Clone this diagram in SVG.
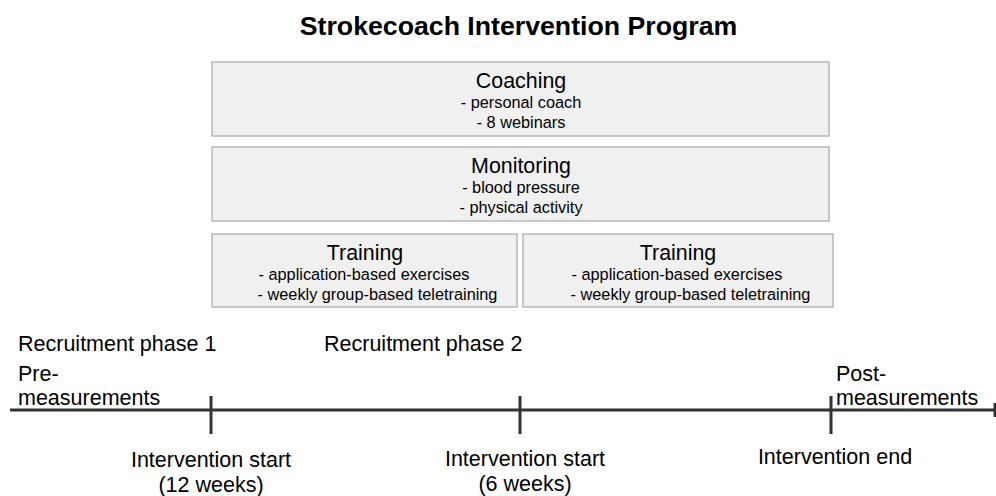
<svg xmlns="http://www.w3.org/2000/svg" width="996" height="496" viewBox="0 0 996 496">
  <style>
    text { font-family: "Liberation Sans", Arial, sans-serif; fill: #000; }
    .title { font-size: 26.7px; font-weight: bold; }
    .head { font-size: 21.4px; }
    .item { font-size: 16.3px; }
    .lbl { font-size: 21.5px; }
    .box { fill: #f0f0f0; stroke: #b8b8b8; stroke-width: 1.5; }
    .axis { stroke: #333; stroke-width: 3; fill: none; }
  </style>

  <text class="title" x="518.5" y="35" text-anchor="middle">Strokecoach Intervention Program</text>

  <g id="coaching">
    <rect class="box" x="212" y="62" width="617" height="74"/>
    <text class="head" x="521" y="88" text-anchor="middle">Coaching</text>
    <text class="item" x="521" y="108" text-anchor="middle">- personal coach</text>
    <text class="item" x="521" y="128" text-anchor="middle">- 8 webinars</text>
  </g>

  <g id="monitoring">
    <rect class="box" x="212" y="147" width="617" height="74"/>
    <text class="head" x="521" y="173" text-anchor="middle">Monitoring</text>
    <text class="item" x="521" y="193" text-anchor="middle">- blood pressure</text>
    <text class="item" x="521" y="213" text-anchor="middle">- physical activity</text>
  </g>

  <g id="training1">
    <rect class="box" x="212" y="234" width="305" height="73"/>
    <text class="head" x="365" y="260" text-anchor="middle">Training</text>
    <text class="item" x="364" y="280" text-anchor="middle">- application-based exercises</text>
    <text class="item" x="377.5" y="300" text-anchor="middle">- weekly group-based teletraining</text>
  </g>

  <g id="training2">
    <rect class="box" x="523" y="234" width="310" height="73"/>
    <text class="head" x="678" y="260" text-anchor="middle">Training</text>
    <text class="item" x="677" y="280" text-anchor="middle">- application-based exercises</text>
    <text class="item" x="690.5" y="300" text-anchor="middle">- weekly group-based teletraining</text>
  </g>

  <g id="connectors">
    <line class="axis" x1="10" y1="410" x2="994" y2="410"/>
    <line class="axis" x1="995" y1="403" x2="995" y2="417"/>
    <line class="axis" x1="211" y1="396" x2="211" y2="434"/>
    <line class="axis" x1="520" y1="396" x2="520" y2="434"/>
    <line class="axis" x1="831" y1="396" x2="831" y2="434"/>
  </g>

  <g id="labels">
    <text class="lbl" x="18" y="351">Recruitment phase 1</text>
    <text class="lbl" x="324" y="351">Recruitment phase 2</text>
    <text class="lbl" x="18" y="381">Pre-</text>
    <text class="lbl" x="18" y="405">measurements</text>
    <text class="lbl" x="836" y="381">Post-</text>
    <text class="lbl" x="836" y="405">measurements</text>
    <text class="lbl" x="211" y="467" text-anchor="middle">Intervention start</text>
    <text class="lbl" x="211" y="492" text-anchor="middle">(12 weeks)</text>
    <text class="lbl" x="525" y="466" text-anchor="middle">Intervention start</text>
    <text class="lbl" x="525" y="491" text-anchor="middle">(6 weeks)</text>
    <text class="lbl" x="835" y="464" text-anchor="middle">Intervention end</text>
  </g>
</svg>
